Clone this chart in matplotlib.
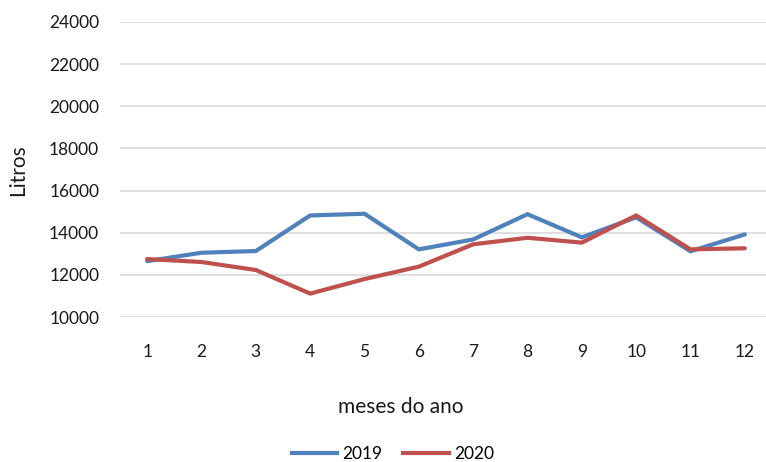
import matplotlib
matplotlib.use("Agg")
import matplotlib.pyplot as plt
from matplotlib.lines import Line2D

months = [1, 2, 3, 4, 5, 6, 7, 8, 9, 10, 11, 12]
litros_2019 = [12650, 13050, 13130, 14820, 14900, 13210, 13680, 14880, 13780, 14730, 13120, 13920]
litros_2020 = [12750, 12610, 12230, 11110, 11800, 12390, 13450, 13760, 13530, 14820, 13210, 13260]
y_ticks = [10000, 12000, 14000, 16000, 18000, 20000, 22000, 24000]
series_labels = ["2019", "2020"]
colors = ["#4F81BD", "#C0504D"]

plt.rcParams['font.family'] = ['Lato', 'DejaVu Sans']
fs = 12.5
fs_title = 15

W, H = 766, 462
fig = plt.figure(figsize=(W / 100, H / 100), dpi=100)
left, right = 120, 772
top, bottom = 22, 317
ax = fig.add_axes([left / W, 1 - bottom / H, (right - left) / W, (bottom - top) / H])

ax.plot(months, litros_2019, color=colors[0], lw=3.0, solid_capstyle='round', solid_joinstyle='miter', zorder=3)
ax.plot(months, litros_2020, color=colors[1], lw=3.0, solid_capstyle='round', solid_joinstyle='miter', zorder=4)

ax.set_xlim(0.5, 12.5)
ax.set_ylim(10000, 24000)
ax.set_yticks(y_ticks)
ax.set_yticklabels([str(v) for v in y_ticks], fontsize=fs, color='#1a1a1a')
ax.set_xticks(months)
ax.set_xticklabels([str(m) for m in months], fontsize=fs, color='#1a1a1a')
ax.grid(axis='y', color='#d9d9d9', lw=1.2)
ax.set_axisbelow(True)
for s in ax.spines.values():
    s.set_visible(False)
ax.tick_params(axis='both', length=0)
ax.tick_params(axis='y', pad=15)
ax.tick_params(axis='x', pad=19.5)

fig.text(18 / W, 1 - 170 / H, "Litros", rotation=90, ha='center', va='center', fontsize=fs_title, color='#1a1a1a')
fig.text(401 / W, 1 - 407 / H, "meses do ano", ha='center', va='center', fontsize=fs_title, color='#1a1a1a')

handles = [Line2D([], [], color=c, lw=3.0) for c in colors]
leg = fig.legend(handles, series_labels, loc='center', bbox_to_anchor=(393 / W, 1 - 454 / H),
                 ncol=2, frameon=False, fontsize=fs, handlelength=2.6, handletextpad=0.3,
                 columnspacing=1.2, borderpad=0)

fig.savefig("out.png", dpi=100)
